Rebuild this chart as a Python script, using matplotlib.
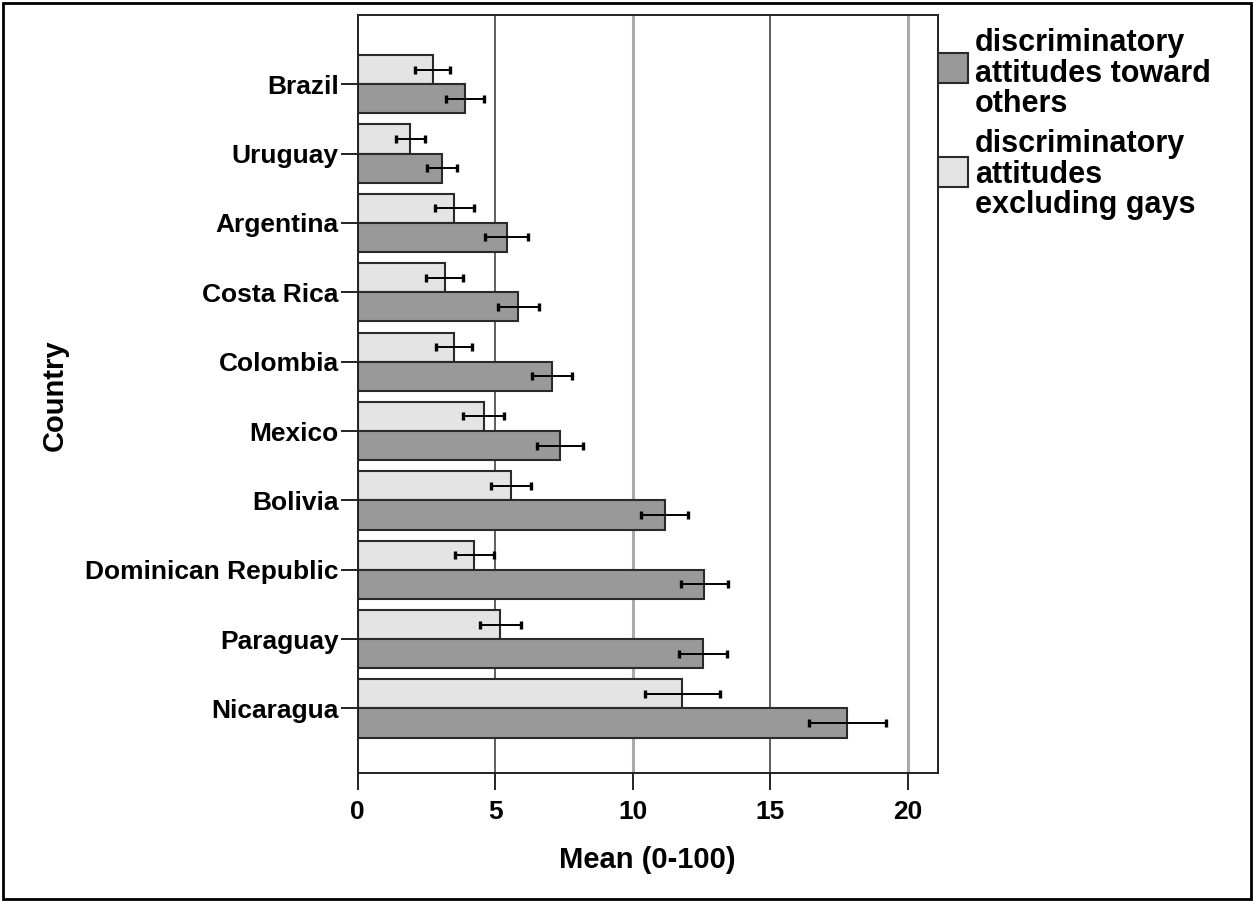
import matplotlib
matplotlib.use("Agg")
import matplotlib.pyplot as plt
from matplotlib.patches import Rectangle
import numpy as np

countries = ["Brazil", "Uruguay", "Argentina", "Costa Rica", "Colombia", "Mexico",
             "Bolivia", "Dominican Republic", "Paraguay", "Nicaragua"]
toward_others = [3.91, 3.07, 5.43, 5.85, 7.06, 7.35, 11.16, 12.61, 12.56, 17.81]
toward_others_err = [0.68, 0.56, 0.78, 0.75, 0.73, 0.84, 0.84, 0.86, 0.87, 1.40]
excl_gays = [2.73, 1.92, 3.51, 3.17, 3.52, 4.58, 5.58, 4.25, 5.19, 11.81]
excl_gays_err = [0.65, 0.53, 0.71, 0.67, 0.65, 0.76, 0.74, 0.70, 0.75, 1.35]
xticks = [0, 5, 10, 15, 20]
legend_labels = ["discriminatory\nattitudes toward\nothers",
                 "discriminatory\nattitudes\nexcluding gays"]

dark = "#999999"
light = "#e4e4e4"
edge = "#2a2a2a"

label_font = ["Liberation Sans Narrow", "Liberation Sans", "DejaVu Sans"]

fig = plt.figure(figsize=(12.54, 9.02), dpi=100)
ax = fig.add_axes([357.5 / 1254, 1 - 773 / 902, (938 - 357.5) / 1254, (773 - 15.5) / 902])

y = np.arange(len(countries))
h = 0.42
# gridlines
for xv in xticks[1:]:
    if xv % 10 == 0:
        ax.axvline(xv, color="#aaaaaa", lw=2.2, zorder=0)
    else:
        ax.axvline(xv, color="#444444", lw=1.2, zorder=0)

ax.barh(y - h / 2, excl_gays, height=h, color=light, edgecolor=edge, linewidth=1.5, zorder=2)
ax.barh(y + h / 2, toward_others, height=h, color=dark, edgecolor=edge, linewidth=1.5, zorder=2)
ax.errorbar(excl_gays, y - h / 2, xerr=excl_gays_err, fmt="none", ecolor="black",
            elinewidth=1.4, capsize=3, capthick=2.4, zorder=3)
ax.errorbar(toward_others, y + h / 2, xerr=toward_others_err, fmt="none", ecolor="black",
            elinewidth=1.4, capsize=3, capthick=2.4, zorder=3)

ax.set_xlim(0, 21.1)
ax.set_ylim(9.93, -0.99)
ax.set_xticks(xticks)
ax.set_xticklabels([str(v) for v in xticks], fontsize=19, fontweight="bold", family=label_font)
ax.set_yticks(y)
ax.set_yticklabels(countries, fontsize=19, fontweight="bold", family=label_font)
ax.tick_params(axis="both", length=12.5, width=1.4, color="#222222", pad=1)
ax.tick_params(axis="x", pad=7)
for s in ax.spines.values():
    s.set_linewidth(1.4)
    s.set_color("#222222")

ax.set_xlabel("Mean (0-100)", fontsize=21, fontweight="bold", family=label_font, labelpad=16)
fig.text(55 / 1254, 1 - 395 / 902, "Country", rotation=90, ha="center", va="center",
         fontsize=21, fontweight="bold", family=label_font)

# legend drawn manually
legend_colors = [dark, light]
patch_tops = [53, 157]
text_tops = [28, 129]
for col, pt, tt, lab in zip(legend_colors, patch_tops, text_tops, legend_labels):
    fig.patches.append(Rectangle((938 / 1254, 1 - (pt + 29.5) / 902), 29.5 / 1254, 29.5 / 902,
                                 transform=fig.transFigure, facecolor=col, edgecolor=edge,
                                 linewidth=1.5))
    fig.text(975 / 1254, 1 - tt / 902, lab, ha="left", va="top", fontsize=22,
             fontweight="bold", family=["Liberation Sans", "DejaVu Sans"], linespacing=1.03)

# outer frame
fig.patches.append(Rectangle((3 / 1254, 3 / 902), 1248 / 1254, 896 / 902,
                             transform=fig.transFigure, facecolor="none",
                             edgecolor="black", linewidth=2))

fig.savefig("out.png", dpi=100)
